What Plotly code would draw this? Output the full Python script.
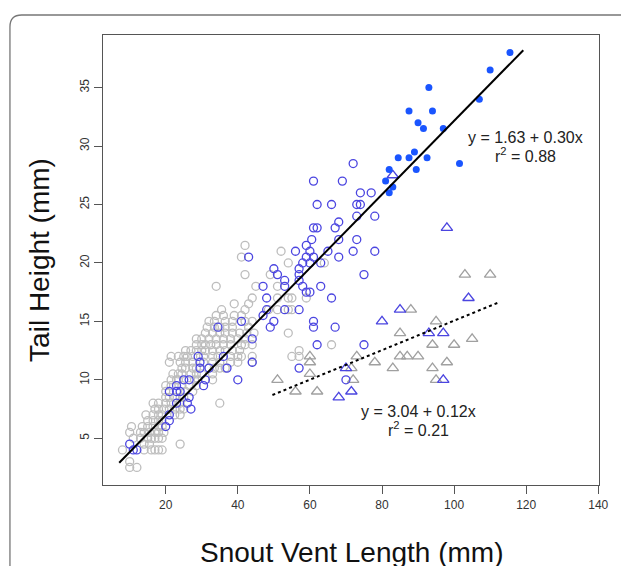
import plotly.graph_objects as go

# ---- data (mm) ----
grey_rows = {
    2.5: [10, 12],
    3.0: [10],
    4.0: [8, 14, 16, 17, 18, 19],
    4.5: [14, 15.5, 24],
    5.0: [11, 13, 15, 16, 17, 18, 19],
    5.5: [10, 13, 14, 15.5, 17, 18, 19.5],
    6.0: [10.5, 13.5, 15, 16.5, 18, 19],
    6.5: [15, 16.5, 18, 19],
    7.0: [14.5, 16.5, 18, 19, 22.5, 24],
    7.5: [17, 18, 19.5, 21, 22.5, 24, 25],
    8.0: [16.5, 18, 20, 21.5, 24, 35],
    8.5: [20, 21, 22.5, 24, 25],
    9.0: [20, 25.5, 27.5],
    9.5: [20, 21.5, 24.5, 26.5, 28.5],
    10.0: [21.5, 23, 23.5, 28, 29, 33],
    10.5: [22, 23.5, 24.5, 27, 28.5, 30, 33],
    11.0: [24.5, 25.5, 27.5, 28.5, 33.5, 35, 36.5],
    11.5: [21, 24, 25.5, 27.5, 30.5, 33, 35, 38, 40, 44],
    12.0: [21.5, 23.5, 25, 26, 27.5, 30.5, 33, 34.5, 38, 40, 41, 44, 55, 57],
    12.5: [25.5, 27, 28.5, 30, 31, 33, 35, 36.5, 38.5, 40.5, 57],
    13.0: [28.5, 30, 31, 32.5, 34, 36, 38, 41, 42, 44, 66],
    13.5: [28.5, 30, 32, 34, 36, 38, 40, 42],
    14.0: [31, 33, 35, 36.5, 38.5, 40.5, 42.5, 44.5, 54],
    14.5: [31.5, 33.5, 35, 36.5, 38.5, 43],
    15.0: [32, 33.5, 36.5, 38.5, 42, 44],
    15.5: [34, 36, 39, 41],
    16.0: [35.5, 42, 48.5, 51, 54, 55],
    16.5: [39, 43],
    17.0: [44, 51, 54, 55, 59],
    18.0: [34, 45, 51],
    19.0: [42, 49],
    20.0: [54, 64],
    20.5: [41],
    21.0: [52],
    21.5: [42],
}
grey_x = [x for yv, xs in grey_rows.items() for x in xs]
grey_y = [yv for yv, xs in grey_rows.items() for x in xs]

blue_open_x = [72, 61, 69, 74, 77, 62, 66, 73, 74, 73, 78, 68, 61, 62, 67, 60.5, 68, 73,
               59, 56, 60, 65, 72, 78, 59, 61, 68, 43, 58, 60, 63, 50, 57, 51, 57, 75,
               53, 57, 53, 47, 58, 63, 59, 60, 48, 66, 48, 53, 57, 47, 41, 50, 61, 61,
               49, 67, 34.5, 44, 62, 75, 57, 70, 44, 40, 36, 37, 32, 29, 29.5, 29.5,
               31, 30.5, 25, 26.5, 23, 21, 23, 24, 26.5, 23, 26, 27, 21, 21, 20, 10, 11, 12]
blue_open_y = [28.5, 27, 27, 26, 26, 25, 25, 25, 25, 24, 24, 23.5, 23, 23, 23, 22, 22, 22,
               21.5, 21, 21, 21, 21, 21, 20.5, 20.5, 20.5, 20.5, 20, 20, 20, 19.5, 19.5, 19, 19, 19,
               18.5, 18.5, 18, 18, 18, 18, 17.5, 17.5, 17, 17, 16, 16, 16, 15.5, 15, 15, 15, 14.5,
               14.5, 14.5, 14.5, 13.5, 13, 13, 11, 10, 11.5, 10, 12, 11, 11, 12, 11.5, 11,
               10, 9.5, 10, 10, 9.5, 9, 9, 9, 8.5, 8, 8, 7.5, 7, 6.5, 6, 4.5, 4, 4]

blue_fill_x = [115.5, 110, 107, 93, 87.5, 94, 90, 91.5, 97, 84.5, 87.5, 89, 92.5, 89.5,
               101.5, 82, 81, 83, 82]
blue_fill_y = [38, 36.5, 34, 35, 33, 33, 32, 31.5, 31.5, 29, 29, 29.5, 29, 28,
               28.5, 28, 27, 26.5, 26]

grey_tri_x = [103, 110, 88, 95, 85, 105, 94, 100, 73, 85, 87, 90, 78, 98, 83, 94,
              60, 60, 60, 51, 56, 62, 71.5, 72, 95]
grey_tri_y = [19, 19, 16, 15, 14, 13.5, 13, 13, 12, 12, 12, 12, 11.5, 11.5, 11, 11,
              12, 11.5, 10.5, 10, 9, 9, 11, 10, 10]

blue_tri_x = [83, 98, 85, 80, 104, 93, 97, 70, 71.5, 68, 97]
blue_tri_y = [27.5, 23, 16, 15, 17, 14, 14, 11, 9, 8.5, 10]

fit1_x = [7.1, 119.2]
fit1_y = [2.9, 38.2]
fit2_x = [49.6, 112.6]
fit2_y = [8.7, 16.65]

x_ticks = [20, 40, 60, 80, 100, 120, 140]
y_ticks = [5, 10, 15, 20, 25, 30, 35]

FONT = "Liberation Sans, Arial, sans-serif"

fig = go.Figure()
fig.add_trace(go.Scatter(x=grey_x, y=grey_y, mode="markers",
                         marker=dict(symbol="circle-open", size=8, color="#BDBDBD",
                                     line=dict(width=1.3, color="#BDBDBD"))))
fig.add_trace(go.Scatter(x=grey_tri_x, y=grey_tri_y, mode="markers",
                         marker=dict(symbol="triangle-up-open", size=10, color="#A0A0A0",
                                     line=dict(width=1.3, color="#A0A0A0"))))
fig.add_trace(go.Scatter(x=blue_open_x, y=blue_open_y, mode="markers",
                         marker=dict(symbol="circle-open", size=8, color="#4B45E0",
                                     line=dict(width=1.3, color="#4B45E0"))))
fig.add_trace(go.Scatter(x=blue_tri_x, y=blue_tri_y, mode="markers",
                         marker=dict(symbol="triangle-up-open", size=10, color="#4B45E0",
                                     line=dict(width=1.3, color="#4B45E0"))))
fig.add_trace(go.Scatter(x=blue_fill_x, y=blue_fill_y, mode="markers",
                         marker=dict(symbol="circle", size=7, color="#1A55FF",
                                     line=dict(width=0))))
fig.add_trace(go.Scatter(x=fit1_x, y=fit1_y, mode="lines",
                         line=dict(color="black", width=2)))
fig.add_trace(go.Scatter(x=fit2_x, y=fit2_y, mode="lines",
                         line=dict(color="black", width=2, dash="3px,3px")))

ann_font = dict(family=FONT, size=16, color="#222")
fig.add_annotation(x=119.9, y=30.75, text="y = 1.63 + 0.30x", showarrow=False, font=ann_font)
fig.add_annotation(x=119.9, y=29.2, text="r<sup>2</sup> = 0.88", showarrow=False, font=ann_font)
fig.add_annotation(x=90, y=7.3, text="y = 3.04 + 0.12x", showarrow=False, font=ann_font)
fig.add_annotation(x=90, y=5.75, text="r<sup>2</sup> = 0.21", showarrow=False, font=ann_font)

# x-axis title placed as annotation so it can sit low like the reference
fig.add_annotation(xref="paper", yref="paper", x=0.503, y=-0.149, yanchor="middle",
                   text="Snout Vent Length (mm)", showarrow=False,
                   font=dict(family=FONT, size=28, color="#111"))

# rounded panel frame
fig.add_shape(type="path", xref="paper", yref="paper",
              path="M -0.1876,-0.4 L -0.1876,1.018 Q -0.1876,1.0444 -0.164,1.0444 L 1.2,1.0444",
              line=dict(color="#777", width=1.3))

axis_common = dict(showgrid=False, zeroline=False, showline=True, linecolor="#555",
                   linewidth=1.2, mirror=True, ticks="outside", ticklen=8,
                   tickcolor="#555", tickwidth=1.2,
                   tickfont=dict(family=FONT, size=12, color="#333"))
fig.update_xaxes(range=[2.6, 140.2], tickvals=x_ticks, **axis_common)
fig.update_yaxes(range=[1.0, 39.5], tickvals=y_ticks, tickangle=-90,
                 title=dict(text="Tail Height (mm)", standoff=20,
                            font=dict(family=FONT, size=28, color="#111")),
                 **axis_common)
fig.update_layout(width=621, height=566, showlegend=False,
                  margin=dict(l=103, r=17, t=35, b=81),
                  plot_bgcolor="white", paper_bgcolor="white")
fig.write_html("out.html", config={"displayModeBar": False},
               post_script="document.body.style.margin='0';document.body.style.overflow='hidden';")
